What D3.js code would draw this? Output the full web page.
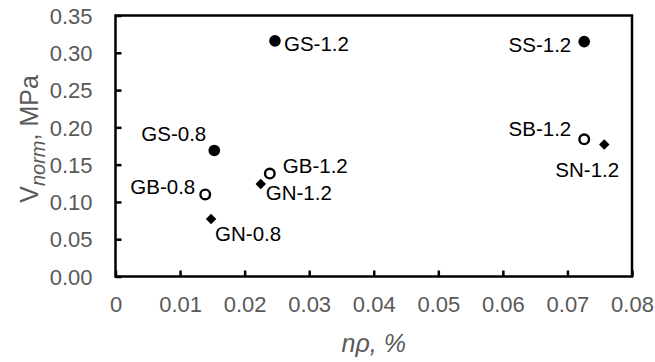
<!DOCTYPE html>
<html>
<head>
<meta charset="utf-8">
<script src="https://cdn.jsdelivr.net/npm/d3@7"></script>
<style>
  body { margin: 0; background: #fff; }
  text { font-family: Arial, "Liberation Sans", sans-serif; }
</style>
</head>
<body>
<svg id="chart" width="655" height="362"></svg>
<script>
// data
var names  = ["GS-0.8", "GB-0.8", "GN-0.8", "GS-1.2", "GB-1.2", "GN-1.2", "SS-1.2", "SB-1.2", "SN-1.2"];
var nRho   = [0.0153, 0.0139, 0.0148, 0.0247, 0.0239, 0.0225, 0.0726, 0.0726, 0.0757];
var vNorm  = [0.169, 0.110, 0.077, 0.316, 0.138, 0.124, 0.315, 0.184, 0.177];
var kinds  = ["S", "B", "N", "S", "B", "N", "S", "B", "N"];

var xTicks = [0, 0.01, 0.02, 0.03, 0.04, 0.05, 0.06, 0.07, 0.08];
var yTicks = [0, 0.05, 0.10, 0.15, 0.20, 0.25, 0.30, 0.35];

// label placement next to each point: dx, dy, anchor
var labelOffset = {
  "GS-0.8": [-8, -17, "end"],
  "GB-0.8": [-10, -8, "end"],
  "GN-0.8": [4, 15, "start"],
  "GS-1.2": [9, 3, "start"],
  "GB-1.2": [13, -8, "start"],
  "GN-1.2": [5, 9, "start"],
  "SS-1.2": [-13, 3, "end"],
  "SB-1.2": [-13, -10, "end"],
  "SN-1.2": [-17, 25, "middle"]
};

var margin = {top: 15.5, right: 23, bottom: 85.5, left: 115.5},
    width = 655 - margin.left - margin.right,
    height = 362 - margin.top - margin.bottom;

var x = d3.scaleLinear().domain([0, 0.08]).range([0, width]),
    y = d3.scaleLinear().domain([0, 0.35]).range([height, 0]);

var svg = d3.select("#chart")
  .append("g")
    .attr("transform", "translate(" + margin.left + "," + margin.top + ")");

var grey = "#595959";

// axes, ticks pointing into the plot
var xAxis = svg.append("g")
    .attr("transform", "translate(0," + height + ")")
    .call(d3.axisBottom(x).tickValues(xTicks).tickSize(-6).tickPadding(20)
      .tickFormat(function(d) { return d === 0 ? "0" : d3.format(".2f")(d); }));

var yAxis = svg.append("g")
    .call(d3.axisLeft(y).tickValues(yTicks).tickSize(-6).tickPadding(23)
      .tickFormat(d3.format(".2f")));

[xAxis, yAxis].forEach(function(a) {
  a.select(".domain").remove();
  a.selectAll(".tick line").attr("stroke", "#000").attr("stroke-width", 2.5);
  a.selectAll(".tick text")
    .attr("fill", grey)
    .style("font-size", "22px")
    .style("font-family", "Arial, 'Liberation Sans', sans-serif");
});
xAxis.selectAll(".tick text").attr("dy", "0.71em");
yAxis.selectAll(".tick text").attr("dy", "0.35em");

// frame
svg.append("rect")
    .attr("width", width)
    .attr("height", height)
    .attr("fill", "none")
    .attr("stroke", "#000")
    .attr("stroke-width", 2.5);

var pts = names.map(function(n, i) {
  return {name: n, x: nRho[i], y: vNorm[i], kind: kinds[i]};
});

var marks = svg.selectAll(".pt")
  .data(pts)
  .enter().append("g")
    .attr("class", "pt")
    .attr("transform", function(d) { return "translate(" + x(d.x) + "," + y(d.y) + ")"; });

marks.filter(function(d) { return d.kind === "S"; })
  .append("circle").attr("r", 5.8).attr("fill", "#000");

marks.filter(function(d) { return d.kind === "B"; })
  .append("circle").attr("r", 4.8).attr("fill", "#fff")
    .attr("stroke", "#000").attr("stroke-width", 2.4);

marks.filter(function(d) { return d.kind === "N"; })
  .append("path")
    .attr("d", d3.symbol().type(d3.symbolDiamond2).size(70))
    .attr("fill", "#000");

marks.append("text")
    .attr("x", function(d) { return labelOffset[d.name][0]; })
    .attr("y", function(d) { return labelOffset[d.name][1]; })
    .attr("dy", "0.35em")
    .attr("text-anchor", function(d) { return labelOffset[d.name][2]; })
    .style("font-size", "20.5px")
    .attr("fill", "#000")
    .text(function(d) { return d.name; });

// axis titles
svg.append("text")
    .attr("x", width / 2)
    .attr("y", height + 75)
    .attr("text-anchor", "middle")
    .attr("fill", grey)
    .style("font-size", "25px")
    .style("font-style", "italic")
    .text("nρ, %");

var yt = svg.append("text")
    .attr("transform", "translate(-78," + (height / 2 - 7) + ") rotate(-90)")
    .attr("text-anchor", "middle")
    .attr("fill", grey)
    .style("font-size", "25px");
yt.append("tspan").text("V");
yt.append("tspan").attr("dy", 7).style("font-size", "20px").style("font-style", "italic").text("norm");
yt.append("tspan").attr("dy", -7).text(", MPa");
</script>
</body>
</html>
